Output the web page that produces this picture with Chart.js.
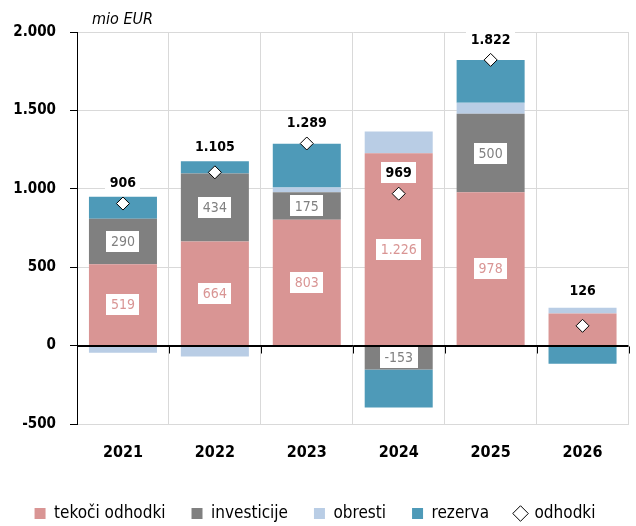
<!DOCTYPE html>
<html>
<head>
<meta charset="utf-8">
<script src="https://cdn.jsdelivr.net/npm/chart.js@4.4.1/dist/chart.umd.min.js"></script>
<style>
  html, body { margin: 0; padding: 0; background: #fff; }
  #wrap { width: 636px; height: 526px; }
</style>
</head>
<body>
<div id="wrap"><canvas id="chart" width="636" height="526"></canvas></div>
<script>
// data (mio EUR)
var years = ['2021', '2022', '2023', '2024', '2025', '2026'];
var tekociOdhodki = [519, 664, 803, 1226, 978, 204];
var investicije = [290, 434, 175, -153, 500, 0];
var obresti = [-45, -70, 30, 139, 70, 38];
var rezerva = [141, 77, 280, -242, 274, -115];
var odhodki = [906, 1105, 1289, 969, 1822, 126];
var yMin = -500, yMax = 2000, yStep = 500;

// which bar segments carry a value box
var showSegLabel = [true, true, true, true, true, false];

var FONT = '"DejaVu Sans Condensed", "Liberation Sans Narrow", sans-serif';

function fmt(v) {
    var s = Math.abs(v).toString().replace(/\B(?=(\d{3})+(?!\d))/g, '.');
    return (v < 0 ? '-' : '') + s;
}

// value boxes, unit label, zero line and its small ticks
var labelPlugin = {
    id: 'valueBoxes',
    afterDatasetsDraw: function(chart) {
        var ctx = chart.ctx;
        var area = chart.chartArea;
        var xs = chart.scales.x, ys = chart.scales.y;

        function box(text, x, y, color, bold) {
            ctx.save();
            ctx.font = (bold ? 'bold ' : '') + '14px ' + FONT;
            var w = ctx.measureText(text).width + 9;
            var h = 21;
            ctx.fillStyle = '#fff';
            ctx.fillRect(Math.round(x - w / 2), Math.round(y - h / 2), Math.round(w), h);
            ctx.fillStyle = color;
            ctx.textAlign = 'center';
            ctx.textBaseline = 'middle';
            ctx.fillText(text, x, y + 1);
            ctx.restore();
        }

        // zero line sits on top of the bars
        var y0 = Math.round(ys.getPixelForValue(0)) + 0.5;
        ctx.save();
        ctx.strokeStyle = '#000';
        ctx.lineWidth = 1;
        ctx.beginPath();
        ctx.moveTo(area.left, y0);
        ctx.lineTo(area.right, y0);
        ctx.stroke();
        for (var i = 1; i <= years.length; i++) {
            var bx = i < years.length ? (xs.getPixelForTick(i - 1) + xs.getPixelForTick(i)) / 2 : area.right;
            bx = Math.round(bx) + 0.5;
            ctx.beginPath();
            ctx.moveTo(bx, y0);
            ctx.lineTo(bx, y0 + 7);
            ctx.stroke();
        }
        ctx.restore();

        chart.getDatasetMeta(0).data.forEach(function(bar, i) {
            if (!showSegLabel[i]) return;
            box(fmt(tekociOdhodki[i]), bar.x, (bar.y + bar.base) / 2, '#D99594', false);
        });
        chart.getDatasetMeta(1).data.forEach(function(bar, i) {
            if (!showSegLabel[i] || investicije[i] === 0) return;
            box(fmt(investicije[i]), bar.x, (bar.y + bar.base) / 2, '#808080', false);
        });

        var lift = [21, 26, 21, 21, 21, 35];
        chart.getDatasetMeta(4).data.forEach(function(pt, i) {
            box(fmt(odhodki[i]), pt.x, pt.y - lift[i], '#000', true);
        });

        ctx.save();
        ctx.font = 'italic 16px ' + FONT;
        ctx.fillStyle = '#000';
        ctx.textBaseline = 'middle';
        ctx.fillText('mio EUR', 92, 20);
        ctx.restore();
    }
};

var ctx = document.getElementById('chart');
var chart = new Chart(ctx, {
    type: 'bar',
    data: {
        labels: years,
        datasets: [
            { label: 'tekoči odhodki', data: tekociOdhodki, backgroundColor: '#D99594', pointStyle: 'rect', stack: 'bars' },
            { label: 'investicije', data: investicije, backgroundColor: '#808080', pointStyle: 'rect', stack: 'bars' },
            { label: 'obresti', data: obresti, backgroundColor: '#B9CDE5', pointStyle: 'rect', stack: 'bars' },
            { label: 'rezerva', data: rezerva, backgroundColor: '#4E9AB8', pointStyle: 'rect', stack: 'bars' },
            {
                type: 'line',
                label: 'odhodki',
                data: odhodki,
                stack: 'total',
                order: -1,
                showLine: false,
                pointStyle: 'rectRot',
                pointRadius: 6.5,
                pointHoverRadius: 6.5,
                pointBackgroundColor: '#fff',
                pointBorderColor: '#000',
                pointBorderWidth: 1
            }
        ]
    },
    options: {
        responsive: false,
        animation: false,
        layout: { padding: { top: 32, right: 6, left: 0, bottom: 0 } },
        datasets: {
            bar: { barPercentage: 0.74, categoryPercentage: 1.0, borderWidth: 0 }
        },
        scales: {
            x: {
                stacked: true,
                grid: { color: '#d9d9d9', drawTicks: false, offset: true },
                border: { color: '#d9d9d9' },
                ticks: {
                    color: '#000',
                    padding: 19,
                    font: { family: FONT, size: 16, weight: 'bold' }
                },
                afterFit: function(scale) { scale.height = 55; }
            },
            y: {
                stacked: true,
                min: yMin,
                max: yMax,
                ticks: {
                    stepSize: yStep,
                    color: '#000',
                    padding: 14,
                    font: { family: FONT, size: 15, weight: 'bold' },
                    callback: function(v) { return fmt(v); }
                },
                grid: {
                    color: function(c) { return c.tick && c.tick.value === 0 ? '#000' : '#d9d9d9'; },
                    tickColor: '#000',
                    tickLength: 7
                },
                border: { color: '#000', width: 1 },
                afterFit: function(scale) { scale.width = 77; }
            }
        },
        plugins: {
            legend: {
                position: 'bottom',
                maxHeight: 47,
                labels: {
                    usePointStyle: true,
                    boxWidth: 11,
                    boxHeight: 11,
                    padding: 26,
                    color: '#000',
                    font: { family: FONT, size: 17 },
                    sort: function(a, b) { return a.datasetIndex - b.datasetIndex; }
                }
            },
            tooltip: { enabled: false }
        }
    },
    plugins: [labelPlugin]
});
</script>
</body>
</html>
